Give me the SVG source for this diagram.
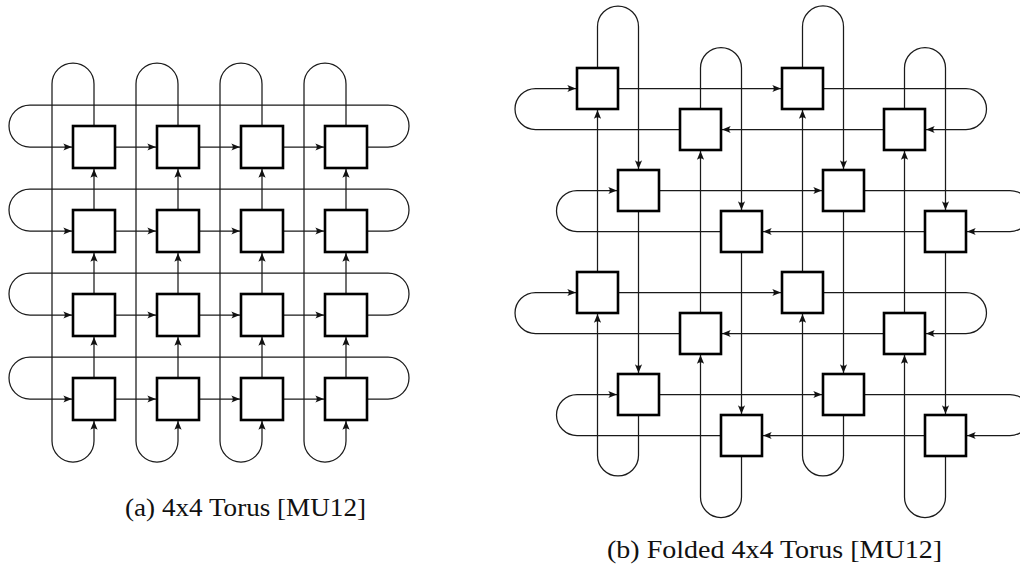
<svg xmlns="http://www.w3.org/2000/svg" width="1020" height="570" viewBox="0 0 1020 570">
  <style>
    .link { fill: none; stroke: #1a1a1a; stroke-width: 1.25; }
    .arr { marker-end: url(#head); }
    .router { fill: #ffffff; stroke: #000000; stroke-width: 2.6; }
    .caption { font-family: "Liberation Serif", "DejaVu Serif", serif; font-size: 26px; fill: #111111; }
  </style>
  <defs>
    <marker id="head" viewBox="-10 -5 12 10" refX="1.1" refY="0" markerWidth="12" markerHeight="10" markerUnits="userSpaceOnUse" orient="auto">
      <path d="M0,0 L-8.6,-3.6 Q-5.6,0 -8.6,3.6 Z" fill="#111111"/>
    </marker>
  </defs>

  <!-- (a) plain 4x4 torus: rings and links -->
  <g id="torus-links">
    <!-- row rings (wrap-around on the right, back to the left) -->
    <path class="link arr" d="M367,147 H388 A21,21 0 0 0 388,105 H30 A21,21 0 0 0 30,147 H73"/>
    <path class="link arr" d="M367,231 H388 A21,21 0 0 0 388,189 H30 A21,21 0 0 0 30,231 H73"/>
    <path class="link arr" d="M367,315 H388 A21,21 0 0 0 388,273 H30 A21,21 0 0 0 30,315 H73"/>
    <path class="link arr" d="M367,399 H388 A21,21 0 0 0 388,357 H30 A21,21 0 0 0 30,399 H73"/>
    <!-- row neighbour links -->
    <path class="link arr" d="M115,147 H157"/><path class="link arr" d="M199,147 H241"/><path class="link arr" d="M283,147 H325"/>
    <path class="link arr" d="M115,231 H157"/><path class="link arr" d="M199,231 H241"/><path class="link arr" d="M283,231 H325"/>
    <path class="link arr" d="M115,315 H157"/><path class="link arr" d="M199,315 H241"/><path class="link arr" d="M283,315 H325"/>
    <path class="link arr" d="M115,399 H157"/><path class="link arr" d="M199,399 H241"/><path class="link arr" d="M283,399 H325"/>
    <!-- column rings (wrap-around over the top, back up from the bottom) -->
    <path class="link arr" d="M94,126 V84 A21,21 0 0 0 52,84 V441 A21,21 0 0 0 94,441 V420"/>
    <path class="link arr" d="M178,126 V84 A21,21 0 0 0 136,84 V441 A21,21 0 0 0 178,441 V420"/>
    <path class="link arr" d="M262,126 V84 A21,21 0 0 0 220,84 V441 A21,21 0 0 0 262,441 V420"/>
    <path class="link arr" d="M346,126 V84 A21,21 0 0 0 304,84 V441 A21,21 0 0 0 346,441 V420"/>
    <!-- column neighbour links -->
    <path class="link arr" d="M94,210 V168"/><path class="link arr" d="M94,294 V252"/><path class="link arr" d="M94,378 V336"/>
    <path class="link arr" d="M178,210 V168"/><path class="link arr" d="M178,294 V252"/><path class="link arr" d="M178,378 V336"/>
    <path class="link arr" d="M262,210 V168"/><path class="link arr" d="M262,294 V252"/><path class="link arr" d="M262,378 V336"/>
    <path class="link arr" d="M346,210 V168"/><path class="link arr" d="M346,294 V252"/><path class="link arr" d="M346,378 V336"/>
  </g>

  <!-- (a) routers -->
  <g id="t00"><rect class="router" x="73" y="126" width="42" height="42"/></g>
  <g id="t01"><rect class="router" x="157" y="126" width="42" height="42"/></g>
  <g id="t02"><rect class="router" x="241" y="126" width="42" height="42"/></g>
  <g id="t03"><rect class="router" x="325" y="126" width="42" height="42"/></g>
  <g id="t10"><rect class="router" x="73" y="210" width="42" height="42"/></g>
  <g id="t11"><rect class="router" x="157" y="210" width="42" height="42"/></g>
  <g id="t12"><rect class="router" x="241" y="210" width="42" height="42"/></g>
  <g id="t13"><rect class="router" x="325" y="210" width="42" height="42"/></g>
  <g id="t20"><rect class="router" x="73" y="294" width="42" height="42"/></g>
  <g id="t21"><rect class="router" x="157" y="294" width="42" height="42"/></g>
  <g id="t22"><rect class="router" x="241" y="294" width="42" height="42"/></g>
  <g id="t23"><rect class="router" x="325" y="294" width="42" height="42"/></g>
  <g id="t30"><rect class="router" x="73" y="378" width="42" height="42"/></g>
  <g id="t31"><rect class="router" x="157" y="378" width="42" height="42"/></g>
  <g id="t32"><rect class="router" x="241" y="378" width="42" height="42"/></g>
  <g id="t33"><rect class="router" x="325" y="378" width="42" height="42"/></g>

  <!-- (b) folded 4x4 torus: rings and links -->
  <g id="folded-links">
    <!-- logical row 0 (lines at y 88.5 / 129.5) -->
    <path class="link arr" d="M618,88.5 H782"/>
    <path class="link arr" d="M823,88.5 H966 A20.5,20.5 0 0 1 966,129.5 H925"/>
    <path class="link arr" d="M884,129.5 H721"/>
    <path class="link arr" d="M680,129.5 H535.5 A20.5,20.5 0 0 1 535.5,88.5 H577"/>
    <!-- logical row 1 (lines at y 190.5 / 231.5) -->
    <path class="link arr" d="M659,190.5 H823"/>
    <path class="link arr" d="M864,190.5 H1010 A20.5,20.5 0 0 1 1010,231.5 H966"/>
    <path class="link arr" d="M925,231.5 H762"/>
    <path class="link arr" d="M721,231.5 H577 A20.5,20.5 0 0 1 577,190.5 H618"/>
    <!-- logical row 2 (lines at y 292.5 / 333.5) -->
    <path class="link arr" d="M618,292.5 H782"/>
    <path class="link arr" d="M823,292.5 H966 A20.5,20.5 0 0 1 966,333.5 H925"/>
    <path class="link arr" d="M884,333.5 H721"/>
    <path class="link arr" d="M680,333.5 H535.5 A20.5,20.5 0 0 1 535.5,292.5 H577"/>
    <!-- logical row 3 (lines at y 394.5 / 435.5) -->
    <path class="link arr" d="M659,394.5 H823"/>
    <path class="link arr" d="M864,394.5 H1010 A20.5,20.5 0 0 1 1010,435.5 H966"/>
    <path class="link arr" d="M925,435.5 H762"/>
    <path class="link arr" d="M721,435.5 H577 A20.5,20.5 0 0 1 577,394.5 H618"/>

    <!-- logical column 0 (lines at x 597.5 / 638.5) -->
    <path class="link arr" d="M597.5,68 V26.5 A20.5,20.5 0 0 1 638.5,26.5 V170"/>
    <path class="link arr" d="M638.5,211 V374"/>
    <path class="link arr" d="M638.5,415 V455.5 A20.5,20.5 0 0 1 597.5,455.5 V313"/>
    <path class="link arr" d="M597.5,272 V109"/>
    <!-- logical column 1 (lines at x 700.5 / 741.5) -->
    <path class="link arr" d="M700.5,109 V68 A20.5,20.5 0 0 1 741.5,68 V211"/>
    <path class="link arr" d="M741.5,252 V415"/>
    <path class="link arr" d="M741.5,456 V497 A20.5,20.5 0 0 1 700.5,497 V354"/>
    <path class="link arr" d="M700.5,313 V150"/>
    <!-- logical column 2 (lines at x 802.5 / 843.5) -->
    <path class="link arr" d="M802.5,68 V26.5 A20.5,20.5 0 0 1 843.5,26.5 V170"/>
    <path class="link arr" d="M843.5,211 V374"/>
    <path class="link arr" d="M843.5,415 V455.5 A20.5,20.5 0 0 1 802.5,455.5 V313"/>
    <path class="link arr" d="M802.5,272 V109"/>
    <!-- logical column 3 (lines at x 904.5 / 945.5) -->
    <path class="link arr" d="M904.5,109 V68 A20.5,20.5 0 0 1 945.5,68 V211"/>
    <path class="link arr" d="M945.5,252 V415"/>
    <path class="link arr" d="M945.5,456 V497 A20.5,20.5 0 0 1 904.5,497 V354"/>
    <path class="link arr" d="M904.5,313 V150"/>
  </g>

  <!-- (b) routers -->
  <g id="f00"><rect class="router" x="577" y="68" width="41" height="41"/></g>
  <g id="f01"><rect class="router" x="782" y="68" width="41" height="41"/></g>
  <g id="f02"><rect class="router" x="680" y="109" width="41" height="41"/></g>
  <g id="f03"><rect class="router" x="884" y="109" width="41" height="41"/></g>
  <g id="f10"><rect class="router" x="618" y="170" width="41" height="41"/></g>
  <g id="f11"><rect class="router" x="823" y="170" width="41" height="41"/></g>
  <g id="f12"><rect class="router" x="721" y="211" width="41" height="41"/></g>
  <g id="f13"><rect class="router" x="925" y="211" width="41" height="41"/></g>
  <g id="f20"><rect class="router" x="577" y="272" width="41" height="41"/></g>
  <g id="f21"><rect class="router" x="782" y="272" width="41" height="41"/></g>
  <g id="f22"><rect class="router" x="680" y="313" width="41" height="41"/></g>
  <g id="f23"><rect class="router" x="884" y="313" width="41" height="41"/></g>
  <g id="f30"><rect class="router" x="618" y="374" width="41" height="41"/></g>
  <g id="f31"><rect class="router" x="823" y="374" width="41" height="41"/></g>
  <g id="f32"><rect class="router" x="721" y="415" width="41" height="41"/></g>
  <g id="f33"><rect class="router" x="925" y="415" width="41" height="41"/></g>

  <!-- captions -->
  <g id="captions">
    <text class="caption" x="125" y="516" textLength="241" lengthAdjust="spacingAndGlyphs">(a) 4x4 Torus [MU12]</text>
    <text class="caption" x="607" y="558" textLength="335" lengthAdjust="spacingAndGlyphs">(b) Folded 4x4 Torus [MU12]</text>
  </g>
</svg>
